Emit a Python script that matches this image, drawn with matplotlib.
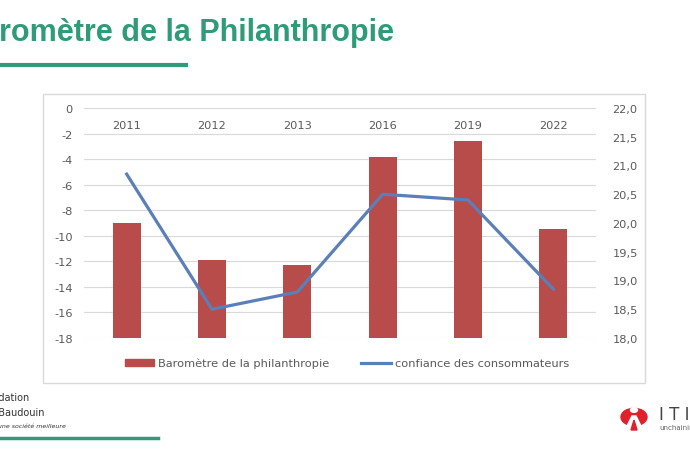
import matplotlib.pyplot as plt
from matplotlib.patches import Rectangle, Patch, Circle, Polygon
from matplotlib.lines import Line2D
from matplotlib.ticker import FuncFormatter

plt.rcParams["axes.unicode_minus"] = False

years = ["2011", "2012", "2013", "2016", "2019", "2022"]
barometre = [-9.0, -11.9, -12.3, -3.8, -2.6, -9.5]
confiance = [20.85, 18.5, 18.8, 20.5, 20.4, 18.85]

GREEN = "#2f9b78"
RED = "#b84c4b"
BLUE = "#5b7fb9"
GREY = "#595959"
FS = 8.2

W, H = 690, 460


def fx(px):
    return px / W


def fy(py):
    return 1 - py / H


fig = plt.figure(figsize=(6.9, 4.6), dpi=100, facecolor="white")

# slide decorations
fig.text(fx(-40), fy(33), "Baromètre de la Philanthropie", color=GREEN,
         fontsize=22, fontweight="bold", family="Liberation Sans", va="center")
fig.add_artist(Line2D([0, fx(186)], [fy(66), fy(66)], color=GREEN, lw=3))
fig.add_artist(Line2D([0, fx(158)], [fy(439), fy(439)], color=GREEN, lw=2.5))

fig.text(fx(29), fy(398), "Fondation", ha="right", va="center", fontsize=7, color="#333333")
fig.text(fx(45), fy(413), "Roi Baudouin", ha="right", va="center", fontsize=7, color="#333333")
fig.text(fx(66), fy(426), "Agir ensemble pour une société meilleure", ha="right", va="center",
         fontsize=4.5, style="italic", color="#333333")

fig.add_artist(Circle((fx(634), fy(418)), 13 / W, transform=fig.transFigure, color="#e0202a"))
fig.add_artist(Circle((fx(634), fy(411)), 3.5 / W, transform=fig.transFigure, color="white"))
fig.add_artist(Polygon([(fx(632), fy(417)), (fx(636), fy(417)), (fx(642), fy(429)), (fx(626), fy(429))],
                       closed=True, transform=fig.transFigure, color="white"))
fig.add_artist(Polygon([(fx(634), fy(421)), (fx(631), fy(431)), (fx(637), fy(431))],
                       closed=True, transform=fig.transFigure, color="#e0202a"))
fig.text(fx(659), fy(415), "I T I N E R A", ha="left", va="center", fontsize=12, color="#444444")
fig.text(fx(659), fy(428), "unchaining", ha="left", va="center", fontsize=5, color="#666666")

# chart frame
fig.add_artist(Rectangle((fx(43), fy(384)), fx(602), 289 / H, transform=fig.transFigure,
                         facecolor="white", edgecolor="#d9d9d9", lw=1, zorder=-1))

ax = fig.add_axes([fx(84), fy(339), fx(512), 230 / H])
ax.patch.set_alpha(0)
x = range(len(years))
ax.bar(x, [v + 18 for v in barometre], bottom=-18, width=0.33, color=RED, zorder=2)
ax.set_ylim(-18, 0)
ax.set_xlim(-0.5, len(years) - 0.5)
ax.set_yticks(range(-18, 1, 2))
ax.grid(axis="y", color="#d9d9d9", lw=0.8, zorder=0)
for s in ax.spines.values():
    s.set_visible(False)
ax.tick_params(axis="y", length=0, labelsize=FS, labelcolor=GREY, pad=8)
ax.set_xticks([])
for i, yr in enumerate(years):
    ax.text(i, -1.35, yr, ha="center", va="center", fontsize=FS, color=GREY)

ax2 = ax.twinx()
ax2.plot(x, confiance, color=BLUE, lw=2.3, zorder=3)
ax2.set_ylim(18, 22)
ax2.set_yticks([18 + 0.5 * k for k in range(9)])
ax2.yaxis.set_major_formatter(FuncFormatter(lambda v, p: f"{v:.1f}".replace(".", ",")))
ax2.tick_params(axis="y", length=0, labelsize=FS, labelcolor=GREY, pad=12)
for s in ax2.spines.values():
    s.set_visible(False)

handles = [Patch(color=RED), Line2D([], [], color=BLUE, lw=2.3)]
leg = fig.legend(handles, ["Baromètre de la philanthropie", "confiance des consommateurs"],
                 loc="center", bbox_to_anchor=(fx(347), fy(364)), ncol=2, frameon=False,
                 fontsize=FS, handlelength=2.6, handleheight=0.55, handletextpad=0.35,
                 columnspacing=2.8, labelcolor=GREY)

fig.savefig("out.png", dpi=100)
